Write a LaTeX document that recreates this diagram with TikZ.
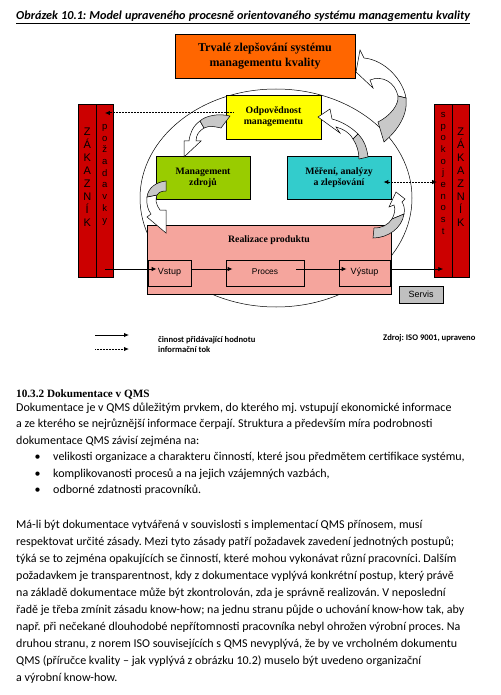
\documentclass[tikz,border=0pt]{standalone}
\usepackage{fontspec}
\setmainfont{Carlito}
\newfontfamily\boxserif{Liberation Serif}
\newfontfamily\boxsans{Liberation Sans}
\usetikzlibrary{arrows.meta,calc}
\frenchspacing

\definecolor{trvaleorange}{HTML}{FF6600}
\definecolor{odpyellow}{HTML}{FFFF00}
\definecolor{zdrojgreen}{HTML}{99CC00}
\definecolor{mercyan}{HTML}{33CCCC}
\definecolor{realpink}{HTML}{F5A59D}
\definecolor{zakred}{HTML}{CC0000}
\definecolor{servgray}{HTML}{C0C0C0}
\definecolor{bendgray}{HTML}{C8C8C8}

% one printed line, spread to the width it has on the page
\newcommand{\fitline}[2]{\makebox[#1pt][s]{#2}}

\begin{document}
\begin{tikzpicture}[x=1pt, y=-1pt,
    >={Latex[length=5pt,width=4.5pt]},
    box/.style={rectangle, draw=black, line width=0.8pt, inner sep=1pt, align=center,
                font=\boxserif\bfseries\fontsize{9.8}{11}\selectfont},
    bigbox/.style={box, fill=trvaleorange, minimum width=180pt, minimum height=44pt,
                   font=\boxserif\bfseries\fontsize{12}{15}\selectfont},
    stepbox/.style={rectangle, draw=black, line width=0.8pt, minimum height=26pt,
                    font=\boxsans\fontsize{9}{11}\selectfont},
    bar/.style={rectangle, draw=black, line width=0.8pt, fill=zakred,
                minimum width=17.5pt, minimum height=173pt, inner sep=0pt},
    bigletters/.style={align=center, inner sep=0pt, font=\boxsans\fontsize{11}{12.9}\selectfont},
    smallletters/.style={align=center, inner sep=0pt, font=\boxsans\fontsize{9.5}{11.7}\selectfont},
    bendtail/.style={draw=black, line width=0.5pt, fill=bendgray},
    bendhead/.style={draw=black, line width=0.5pt, fill=white},
    flow/.style={->, line width=0.9pt},
    info/.style={->, line width=1pt, dash pattern=on 0.8pt off 0.7pt},
    legend/.style={font=\bfseries\fontsize{8.6}{10}\selectfont, inner sep=0pt},
    bodytext/.style={align=left, inner sep=0pt, font=\fontsize{12}{16.5}\selectfont}
  ]
    \useasboundingbox (0,0) rectangle (500,695);

    %--- Title ---
    \node[anchor=base west, inner sep=0pt, font=\bfseries\itshape\fontsize{12.2}{14}\selectfont] (title) at (16,20)
      {\underline{\fitline{454}{Obrázek 10.1: Model upraveného procesně orientovaného systému managementu kvality}}};

    %--- Loop of the processes ---
    \draw[line width=0.5pt] (276,198) ellipse [x radius=136pt, y radius=109pt];

    %--- Boxes ---
    \node[bigbox] (trvale) at (265,56) {Trvalé zlepšování systému\\managementu kvality};
    \node[box, fill=odpyellow, minimum width=95pt, minimum height=44pt] (odp) at (273.5,117)
      {Odpovědnost\\managementu};
    \node[box, fill=zdrojgreen, minimum width=94pt, minimum height=43pt] (zdroje) at (203,177.5)
      {Management\\zdrojů};
    \node[box, fill=mercyan, minimum width=104pt, minimum height=43pt] (mereni) at (339,177.5)
      {Měření, analýzy\\a zlepšování};
    \node[box, fill=realpink, minimum width=244pt, minimum height=69pt,
          label={[font=\boxserif\bfseries\fontsize{9.8}{11}\selectfont, inner sep=0pt, below=11pt]north:Realizace produktu}]
      (realizace) at (269,259.5) {};

    \node[stepbox, minimum width=43pt] (vstup) at (169.5,273) {\raisebox{4pt}{Vstup}};
    \node[stepbox, minimum width=78pt, font=\boxsans\fontsize{8.4}{10}\selectfont] (proces) at (265,273)
      {\raisebox{3pt}{Proces}};
    \node[stepbox, minimum width=51pt] (vystup) at (364.5,273) {\raisebox{4pt}{Výstup}};
    \node[stepbox, fill=servgray, minimum width=44pt, minimum height=17pt] (servis) at (421,294.5) {Servis};

    %--- Customer bars ---
    \node[bar, label={[bigletters, below=24.5pt]north:{Z\\Á\\K\\A\\Z\\N\\Í\\K}}] (zakL) at (87.25,190.5) {};
    \node[bar, label={[smallletters, below=20.5pt]north:{p\\o\\ž\\a\\d\\a\\v\\k\\y}}] (pozL) at (104.75,190.5) {};
    \node[bar, label={[smallletters, below=8.5pt]north:{s\\p\\o\\k\\o\\j\\e\\n\\o\\s\\t}}] (spokR) at (443.25,190.5) {};
    \node[bar, label={[bigletters, below=24.5pt]north:{Z\\Á\\K\\A\\Z\\N\\Í\\K}}] (zakR) at (460.75,190.5) {};

    %--- Bent arrows of the loop ---
    % improvement -> top box
    \draw[bendhead] (406,98) .. controls (403,80) and (385,60) .. (364,58) -- (360,50) -- (356,72)
      -- (373,88) -- (370,80) .. controls (382,75) and (395,82) .. (398,96) -- cycle;
    \draw[bendtail] (384,142) .. controls (398,130) and (408,115) .. (406,98) -- (398,96)
      .. controls (399,105) and (390,116) .. (378,122) -- cycle;
    % management -> resources
    \draw[bendhead] (200,121) .. controls (193,126) and (190,133) .. (189,141) -- (184,141) -- (184,157)
      -- (201,141) -- (196,141) .. controls (196,135) and (199,131) .. (204,128) -- cycle;
    \draw[bendtail] (230,116) .. controls (218,113) and (205,116) .. (200,121) -- (204,128)
      .. controls (210,125) and (216,127) .. (221,128) -- cycle;
    % resources -> realisation
    \draw[bendhead] (147,197) .. controls (146,204) and (148,210) .. (151,214) -- (147,217) -- (166,233)
      -- (166,210) -- (160,210) .. controls (156,205) and (155,199) .. (157,195) -- cycle;
    \draw[bendtail] (166,181) .. controls (156,182) and (148,188) .. (147,197) -- (157,195)
      .. controls (159,192) and (162,191) .. (166,191) -- cycle;
    % realisation -> measuring
    \draw[bendhead] (404,214) .. controls (405,209) and (404,205) .. (402,202) -- (405,199) -- (396,192)
      -- (389,207) -- (394,205) .. controls (396,210) and (394,215) .. (392,219) -- cycle;
    \draw[bendtail] (373,238) .. controls (388,238) and (402,228) .. (404,214) -- (392,219)
      .. controls (388,225) and (382,228) .. (374,228) -- cycle;
    % measuring -> management
    \draw[bendhead] (358,134) .. controls (350,126) and (340,121) .. (332,119) -- (330,109) -- (318,117)
      -- (340,133) -- (336,127) .. controls (343,129) and (349,132) .. (353,139) -- cycle;
    \draw[bendtail] (368,157) .. controls (367,148) and (364,140) .. (358,134) -- (353,139)
      .. controls (357,145) and (359,152) .. (359,159) -- cycle;

    %--- Information flows ---
    \draw[info] ([xshift=8pt,yshift=4pt]odp.west) -- ($(pozL.center |- odp.west)+(0,4pt)$);
    \draw[info, <->] ([xshift=-8pt,yshift=-4.5pt]mereni.east) -- ($(spokR.west |- mereni.east)+(3pt,-4.5pt)$);

    %--- Value adding flows ---
    \draw[flow] ($(pozL.center |- vstup.west)+(0,4pt)$) -- ([xshift=9pt,yshift=4pt]vstup.west);
    \draw[flow] ([yshift=4pt]vstup.east) -- ([xshift=7pt,yshift=4pt]proces.west);
    \draw[flow] ([xshift=-8pt,yshift=4pt]proces.east) -- ([xshift=8pt,yshift=4pt]vystup.west);
    \draw[flow] ([yshift=4pt]vystup.east) -- ($(spokR.center |- vystup.east)+(0,4pt)$);

    %--- Legend ---
    \coordinate (flowA) at (95,335);
    \coordinate (flowB) at (129,335);
    \coordinate (infoA) at (95,349);
    \coordinate (infoB) at (129,349);
    \draw[flow] (flowA) -- (flowB);
    \draw[info] (infoA) -- (infoB);
    \node[legend, anchor=base west] (legflow) at (158,342) {činnost přidávající hodnotu};
    \node[legend, anchor=base west] (leginfo) at (158,352.5) {informační tok};
    \node[legend, anchor=base west] (zdroj) at (383,340.5) {Zdroj: ISO 9001, upraveno};

    %--- Text below the figure ---
    \node[anchor=base west, inner sep=0pt, font=\boxserif\bfseries\fontsize{11.2}{13}\selectfont] (heading)
      at (16,397) {10.3.2 Dokumentace v QMS};
    \node[bodytext, anchor=north west] (par1) at (16,402.5) {%
      Dokumentace je v QMS důležitým prvkem, do kterého mj. vstupují ekonomické informace\\
      a ze kterého se nejrůznější informace čerpají. Struktura a především míra podrobnosti\\
      dokumentace QMS závisí zejména na:};
    \node[bodytext, anchor=north west] (bullets) at (34.5,452) {%
      \makebox[18.5pt][l]{•}velikosti organizace a charakteru činností, které jsou předmětem certifikace systému,\\
      \makebox[18.5pt][l]{•}komplikovanosti procesů a na jejich vzájemných vazbách,\\
      \makebox[18.5pt][l]{•}odborné zdatnosti pracovníků.};
    \node[bodytext, anchor=north west, font=\fontsize{12}{17}\selectfont] (par2) at (16,520) {%
      Má-li být dokumentace vytvářená v souvislosti s implementací QMS přínosem, musí\\
      respektovat určité zásady. Mezi tyto zásady patří požadavek zavedení jednotných postupů;\\
      týká se to zejména opakujících se činností, které mohou vykonávat různí pracovníci. Dalším\\
      požadavkem je transparentnost, kdy z dokumentace vyplývá konkrétní postup, který právě\\
      na základě dokumentace může být zkontrolován, zda je správně realizován. V neposlední\\
      řadě je třeba zmínit zásadu know-how; na jednu stranu půjde o uchování know-how tak, aby\\
      např. při nečekané dlouhodobé nepřítomnosti pracovníka nebyl ohrožen výrobní proces. Na\\
      druhou stranu, z norem ISO souvisejících s QMS nevyplývá, že by ve vrcholném dokumentu\\
      QMS (příručce kvality – jak vyplývá z obrázku 10.2) muselo být uvedeno organizační\\
      a výrobní know-how.};
\end{tikzpicture}
\end{document}
